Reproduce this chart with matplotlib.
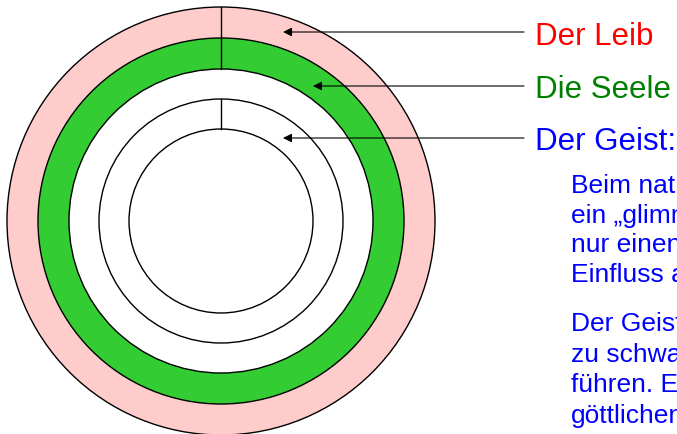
import matplotlib
matplotlib.use('Agg')
import matplotlib.pyplot as plt
from matplotlib.patches import Circle

# Beschriftungen
titles = ["Der Leib", "Die Seele", "Der Geist:"]
title_colors = ["#FF0000", "#008000", "#0000FF"]
body_par1 = ["Beim natürlichen", "ein „glimmender", "nur einen geringen", "Einfluss auf"]
body_par2 = ["Der Geist ist", "zu schwach", "führen. Er", "göttlichen"]

# Geometrie (Pixel)
cx, cy = 221, 221
ring_radii = [214, 183, 152, 122, 92]
ring_fills = ["#FFCCCC", "#33CC33", "white", "white", "white"]

fig = plt.figure(figsize=(6.77, 4.34), dpi=100)
ax = fig.add_axes([0, 0, 1, 1])
ax.set_xlim(0, 677)
ax.set_ylim(434, 0)
ax.set_aspect('equal')
ax.axis('off')

for r, fc in zip(ring_radii, ring_fills):
    ax.add_patch(Circle((cx, cy), r, facecolor=fc, edgecolor='black', lw=1.0))

# senkrechte Trennstriche
ax.plot([cx, cx], [cy - ring_radii[0], cy - ring_radii[2]], color='black', lw=1.0)
ax.plot([cx, cx], [cy - ring_radii[3], cy - ring_radii[4]], color='black', lw=1.0)

# Pfeile und Titel
arrow_y = [32, 86, 138]
arrow_tip = [283, 313, 283]
title_base = [45, 98, 150]
for ty, tip, base, t, c in zip(arrow_y, arrow_tip, title_base, titles, title_colors):
    ax.annotate("", xy=(tip, ty), xytext=(524, ty),
                arrowprops=dict(arrowstyle='-|>', color='black', lw=0.8,
                                mutation_scale=13, shrinkA=0, shrinkB=0))
    ax.text(535, base, t, color=c, fontsize=22.5, family='Liberation Sans',
            va='baseline', ha='left')

# Fliesstext (rechts vom Bildrand abgeschnitten wie im Original)
for i, line in enumerate(body_par1):
    ax.text(571, 193 + i * 29.7, line, color='#0000FF', fontsize=19,
            family='Liberation Sans', va='baseline', ha='left')
for i, line in enumerate(body_par2):
    ax.text(571, 331 + i * 30.7, line, color='#0000FF', fontsize=19,
            family='Liberation Sans', va='baseline', ha='left')

fig.savefig('out.png', dpi=100)
